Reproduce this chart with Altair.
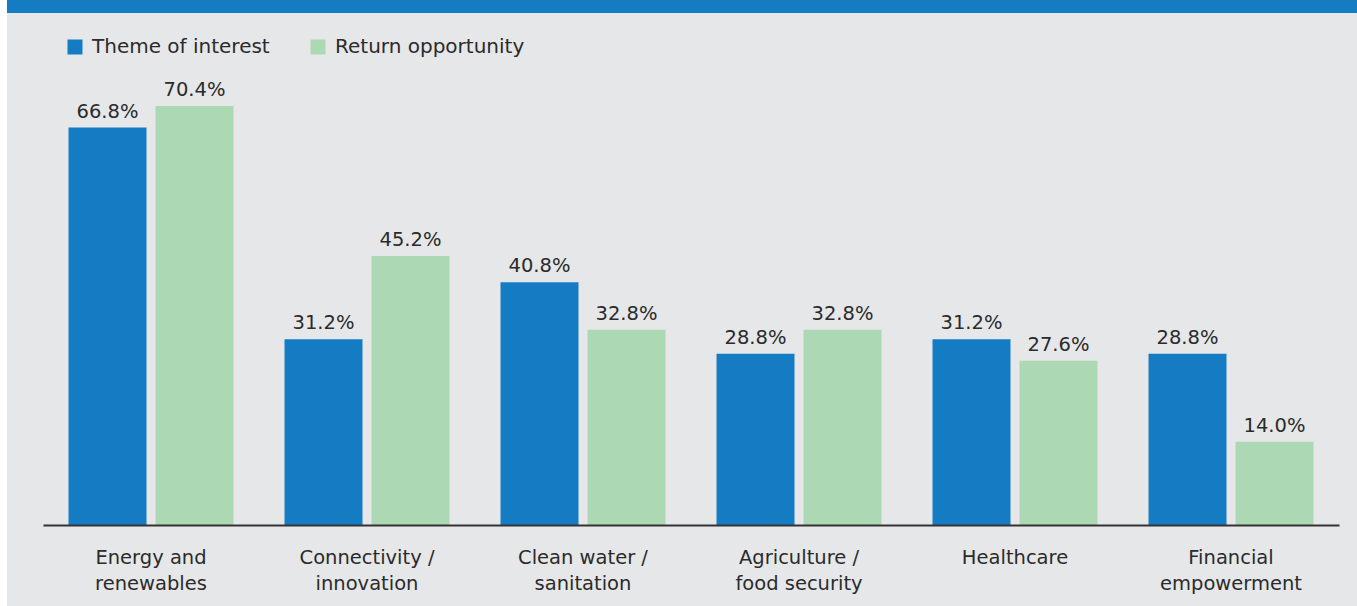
import altair as alt
import pandas as pd

categories = ["Energy and|renewables", "Connectivity /|innovation", "Clean water /|sanitation",
              "Agriculture /|food security", "Healthcare", "Financial|empowerment"]
series = ["Theme of interest", "Return opportunity"]
theme_values = [66.8, 31.2, 40.8, 28.8, 31.2, 28.8]
return_values = [70.4, 45.2, 32.8, 32.8, 27.6, 14.0]
colors = ["#157CC4", "#ADD8B4"]

rows = []
for c, t, r in zip(categories, theme_values, return_values):
    rows.append({"category": c, "series": series[0], "value": t})
    rows.append({"category": c, "series": series[1], "value": r})
df = pd.DataFrame(rows)

FONT = "DejaVu Sans"
W, H = 1296, 476
GRAY = "#E6E7E9"
BLUE_BAND = "#147CC3"

x_enc = alt.X(
    "category:N", sort=categories,
    scale=alt.Scale(paddingInner=51 / 216, paddingOuter=25.5 / 216),
    axis=alt.Axis(
        title=None, labelAngle=0, ticks=False, tickSize=0, grid=False, zindex=1,
        domainColor="#333333", domainWidth=2,
        labelFont=FONT, labelFontSize=19.5, labelColor="#2b2b2b",
        labelBaseline="alphabetic", labelPadding=38, labelLineHeight=26,
        labelExpr="split(datum.label, '|')",
    ),
)
xoff = alt.XOffset("series:N", sort=series,
                   scale=alt.Scale(paddingInner=9 / 87, paddingOuter=0))
y_enc = alt.Y("value:Q", scale=alt.Scale(domain=[0, 80]), axis=None)

bg_data = pd.DataFrame({"a": [0]})
bg = alt.Chart(bg_data).mark_rect(color=GRAY).encode(
    x=alt.value(-36), x2=alt.value(1314), y=alt.value(-36), y2=alt.value(557))
band = alt.Chart(bg_data).mark_rect(color=BLUE_BAND).encode(
    x=alt.value(-36), x2=alt.value(1314), y=alt.value(-49), y2=alt.value(-36))

bars = alt.Chart(df).mark_bar().encode(
    x=x_enc, xOffset=xoff, y=y_enc,
    color=alt.Color(
        "series:N", sort=series,
        scale=alt.Scale(domain=series, range=colors),
        legend=alt.Legend(
            title=None, orient="none", legendX=22, legendY=-12, direction="horizontal",
            symbolType="square", symbolSize=225, symbolStrokeWidth=0,
            labelFont=FONT, labelFontSize=20, labelColor="#2b2b2b", labelLimit=400,
            labelOffset=7, columnPadding=38,
        ),
    ),
)

labels = alt.Chart(df).transform_calculate(
    label="format(datum.value, '.1f') + '%'"
).mark_text(font=FONT, fontSize=19.5, color="#2b2b2b", baseline="alphabetic", dy=-10).encode(
    x=alt.X("category:N", sort=categories), xOffset=alt.XOffset("series:N", sort=series),
    y="value:Q", text="label:N",
)

chart = alt.layer(bg, band, bars, labels).properties(
    width=W, height=H,
    autosize=alt.AutoSizeParams(type="none"),
    padding={"left": 43, "top": 49, "right": 18, "bottom": 81},
    background="white",
).configure_view(stroke=None)

chart.save("out.html", embed_options={"renderer": "svg", "actions": False})
